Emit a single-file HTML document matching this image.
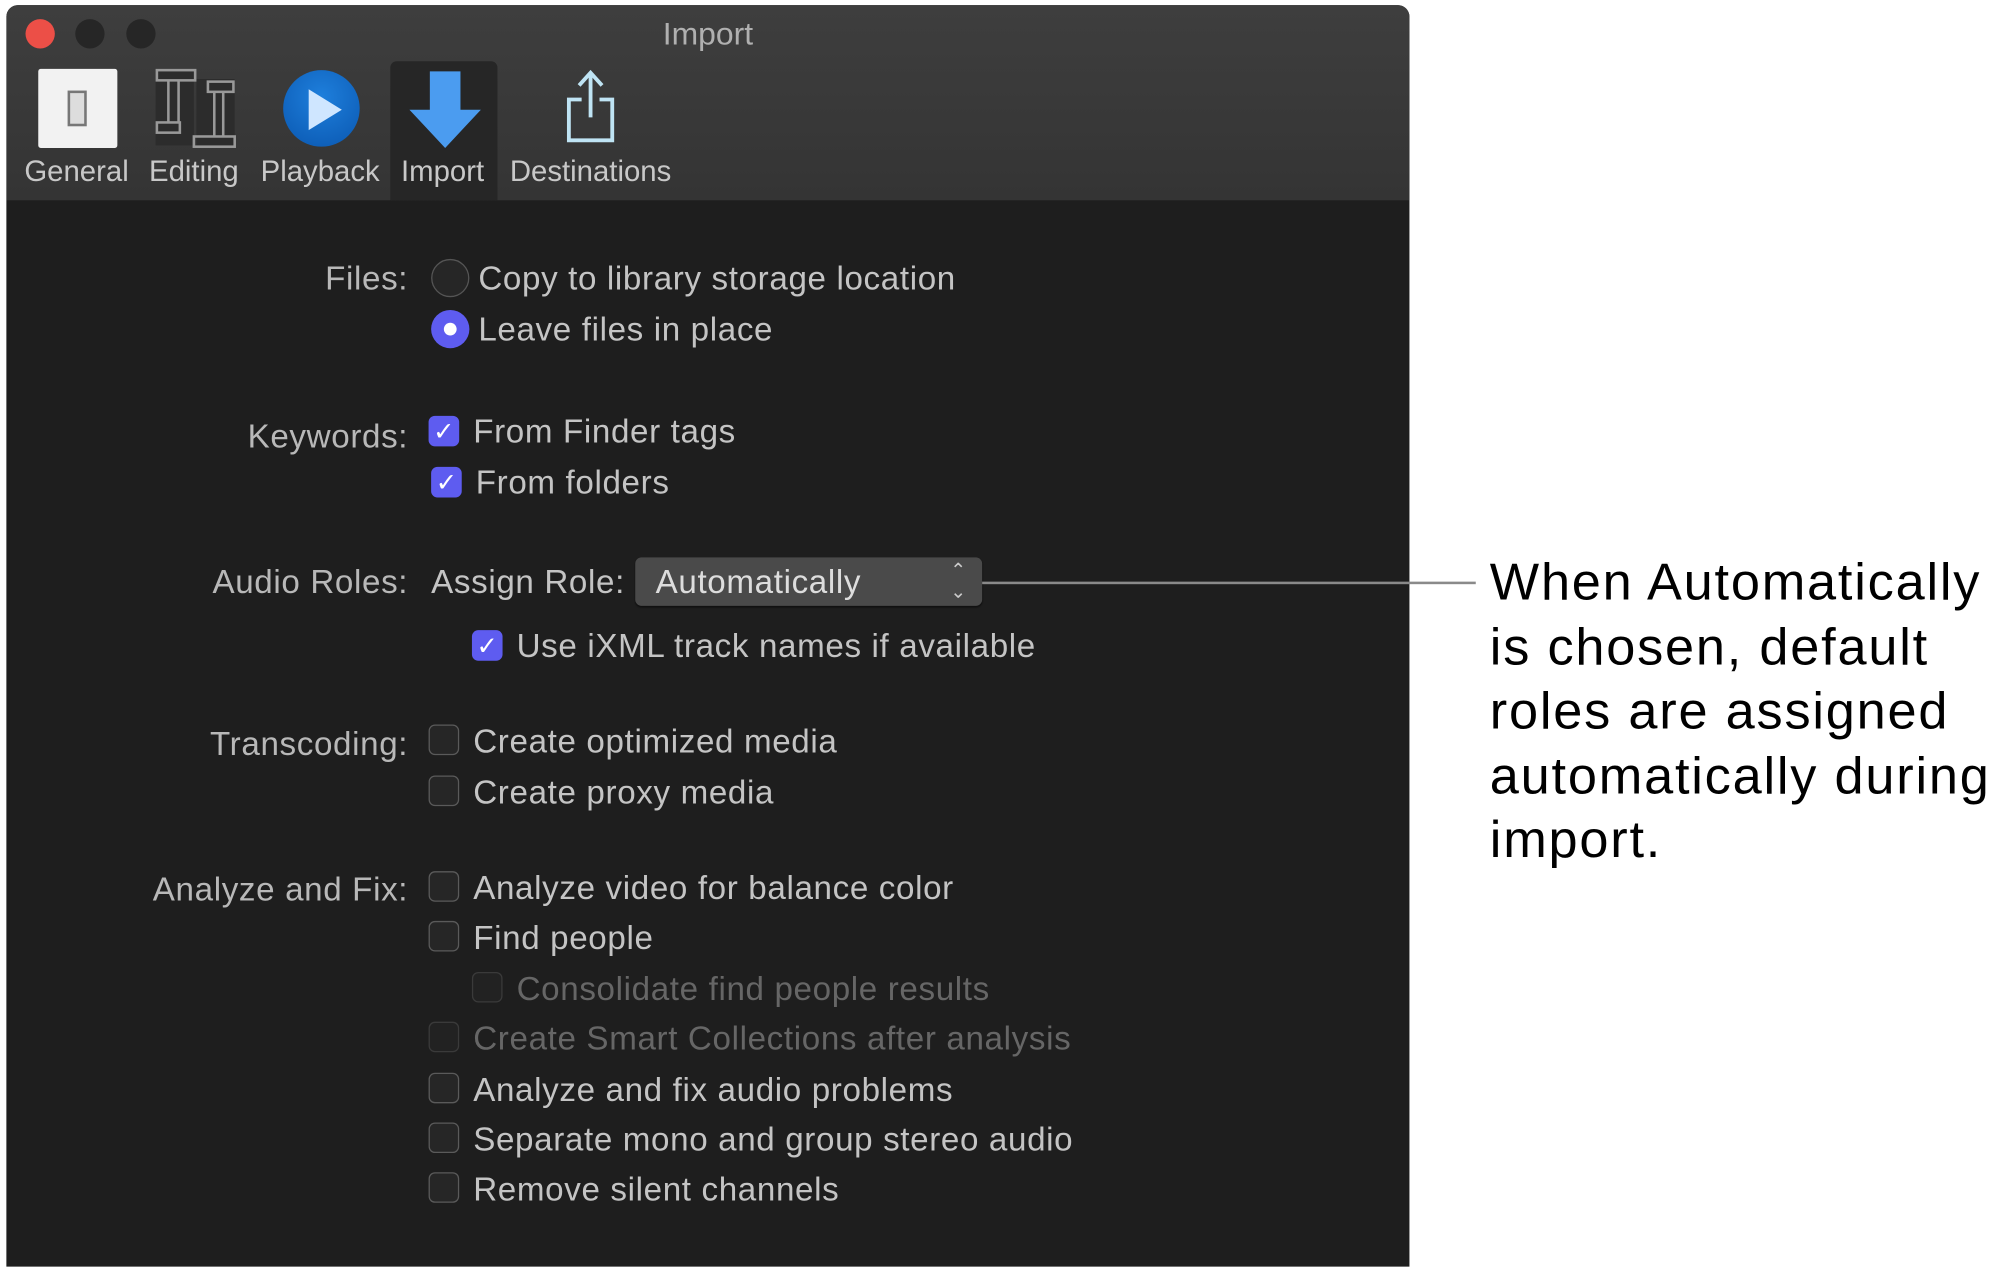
<!DOCTYPE html>
<html><head><meta charset="utf-8"><style>
html,body{margin:0;padding:0;background:#fff;width:2000px;height:1271px;overflow:hidden}
#s{position:absolute;left:0;top:0;width:1568px;height:997px;transform:scale(1.27551);transform-origin:0 0;font-family:"Liberation Sans",sans-serif}
.a{position:absolute;white-space:nowrap}
.t{position:absolute;white-space:nowrap;font-size:26px;line-height:30px;color:#c4c4c4;letter-spacing:0.5px}
.l{position:absolute;white-space:nowrap;font-size:26px;line-height:30px;color:#b8b8b8;text-align:right;right:1248px;letter-spacing:0.5px}
.cb{position:absolute;width:24px;height:24px;border:1px solid #5a5a5a;border-radius:5px;background:#262626;box-sizing:border-box}
.cb.on{background:#5e5cf0;border-color:#5e5cf0;color:#fff;font-size:20px;line-height:24px;text-align:center}
.dis{color:#666}
.cb.d{border-color:#3a3a3a;background:#222}
.lab{position:absolute;font-size:23px;color:#c8c8c8;top:121px;white-space:nowrap;transform:translateX(-50%)}
</style></head><body><div id="s">
<div class="a" style="left:5px;top:4px;width:1100px;height:989px;background:#1e1e1e;border-radius:9px 9px 0 0;overflow:hidden">
  <div class="a" style="left:0;top:0;width:1100px;height:153px;background:linear-gradient(#3e3e3e,#343434)"></div>
  <div class="a" style="left:301px;top:44px;width:84px;height:109px;background:#262626;border-radius:5px 5px 0 0"></div>
</div>
<div class="a" style="left:20px;top:15px;width:23px;height:23px;border-radius:50%;background:#ec4f47"></div>
<div class="a" style="left:59px;top:15px;width:23px;height:23px;border-radius:50%;background:#262626"></div>
<div class="a" style="left:99px;top:15px;width:23px;height:23px;border-radius:50%;background:#262626"></div>
<div class="a" style="left:0;width:1110px;top:13px;text-align:center;font-size:25px;color:#b0b0b0">Import</div>
<!-- icons -->
<div class="a" style="left:30px;top:54px;width:62px;height:62px;background:#f2f2f2;border-radius:2px"></div>
<div class="a" style="left:53px;top:71px;width:15px;height:28px;background:#ddd;border:2px solid #777;box-sizing:border-box"></div>
<svg class="a" style="left:118px;top:52px" width="70" height="66"><rect x="4" y="4" width="30" height="58" fill="#2c2c2c"/><rect x="36" y="10" width="30" height="52" fill="#2c2c2c"/><rect x="5" y="3" width="30" height="8" fill="none" stroke="#999" stroke-width="2"/><line x1="14" y1="11" x2="14" y2="44" stroke="#999" stroke-width="2"/><line x1="22" y1="11" x2="22" y2="44" stroke="#999" stroke-width="2"/><rect x="5" y="44" width="18" height="8" fill="none" stroke="#999" stroke-width="2"/><rect x="45" y="12" width="20" height="8" fill="none" stroke="#999" stroke-width="2"/><line x1="50" y1="20" x2="50" y2="55" stroke="#999" stroke-width="2"/><line x1="57" y1="20" x2="57" y2="55" stroke="#999" stroke-width="2"/><rect x="34" y="55" width="32" height="8" fill="none" stroke="#999" stroke-width="2"/></svg>
<div class="a" style="left:222px;top:55px;width:60px;height:60px;border-radius:50%;background:radial-gradient(circle at 50% 35%,#1e7fdc,#0a57b0)"></div>
<svg class="a" style="left:238px;top:68px" width="34" height="36"><polygon points="4,2 30,18 4,34" fill="#cfe6ff"/></svg>
<svg class="a" style="left:317px;top:54px" width="64" height="64"><polygon points="20,2 44,2 44,32 60,32 32,62 4,32 20,32" fill="#4b9cf0"/></svg>
<svg class="a" style="left:440px;top:52px" width="48" height="62"><path d="M16 26 H6 V58 H40 V26 H30" fill="none" stroke="#bfe4f4" stroke-width="3"/><line x1="23" y1="6" x2="23" y2="40" stroke="#bfe4f4" stroke-width="3"/><polyline points="14,15 23,5 32,15" fill="none" stroke="#bfe4f4" stroke-width="3"/></svg>
<div class="lab" style="left:60px">General</div>
<div class="lab" style="left:152px">Editing</div>
<div class="lab" style="left:251px">Playback</div>
<div class="lab" style="left:347px">Import</div>
<div class="lab" style="left:463px">Destinations</div>
<!-- labels -->
<div class="l" style="top:203px">Files:</div>
<div class="l" style="top:327px">Keywords:</div>
<div class="l" style="top:441px">Audio Roles:</div>
<div class="l" style="top:568px">Transcoding:</div>
<div class="l" style="top:682px">Analyze and Fix:</div>
<!-- files -->
<div class="a" style="left:338px;top:203px;width:30px;height:30px;border-radius:50%;border:1px solid #555;box-sizing:border-box;background:#262626"></div>
<div class="t" style="left:375px;top:203px">Copy to library storage location</div>
<div class="a" style="left:338px;top:243px;width:30px;height:30px;border-radius:50%;background:#5e5cf0"></div>
<div class="a" style="left:348px;top:253px;width:10px;height:10px;border-radius:50%;background:#fff"></div>
<div class="t" style="left:375px;top:243px">Leave files in place</div>
<!-- keywords -->
<div class="cb on" style="left:336px;top:326px">✓</div><div class="t" style="left:371px;top:323px">From Finder tags</div>
<div class="cb on" style="left:338px;top:366px">✓</div><div class="t" style="left:373px;top:363px">From folders</div>
<!-- audio roles -->
<div class="t" style="left:338px;top:441px">Assign Role:</div>
<div class="a" style="left:498px;top:437px;width:272px;height:38px;background:#4a4a4a;border-radius:5px;box-shadow:0 1px 1px #111"></div>
<div class="t" style="left:514px;top:441px;color:#ddd">Automatically</div>
<div class="a" style="left:745px;top:440px;font-size:15px;line-height:15px;color:#ccc">⌃<br><span style="display:inline-block;transform:scaleY(-1)">⌃</span></div>
<div class="a" style="left:770px;top:456px;width:387px;height:2px;background:#8a8a8a"></div>
<div class="cb on" style="left:370px;top:494px">✓</div><div class="t" style="left:405px;top:491px">Use iXML track names if available</div>
<!-- transcoding -->
<div class="cb" style="left:336px;top:568px"></div><div class="t" style="left:371px;top:566px">Create optimized media</div>
<div class="cb" style="left:336px;top:608px"></div><div class="t" style="left:371px;top:606px">Create proxy media</div>
<!-- analyze -->
<div class="cb" style="left:336px;top:683px"></div><div class="t" style="left:371px;top:681px">Analyze video for balance color</div>
<div class="cb" style="left:336px;top:722px"></div><div class="t" style="left:371px;top:720px">Find people</div>
<div class="cb d" style="left:370px;top:762px"></div><div class="t dis" style="left:405px;top:760px">Consolidate find people results</div>
<div class="cb d" style="left:336px;top:801px"></div><div class="t dis" style="left:371px;top:799px">Create Smart Collections after analysis</div>
<div class="cb" style="left:336px;top:841px"></div><div class="t" style="left:371px;top:839px">Analyze and fix audio problems</div>
<div class="cb" style="left:336px;top:880px"></div><div class="t" style="left:371px;top:878px">Separate mono and group stereo audio</div>
<div class="cb" style="left:336px;top:919px"></div><div class="t" style="left:371px;top:917px">Remove silent channels</div>
<!-- annotation -->
<div class="a" style="left:1168px;top:431px;font-size:41px;line-height:50.5px;letter-spacing:1.4px;color:#000">When Automatically<br>is chosen, default<br>roles are assigned<br>automatically during<br>import.</div>
</div></body></html>
